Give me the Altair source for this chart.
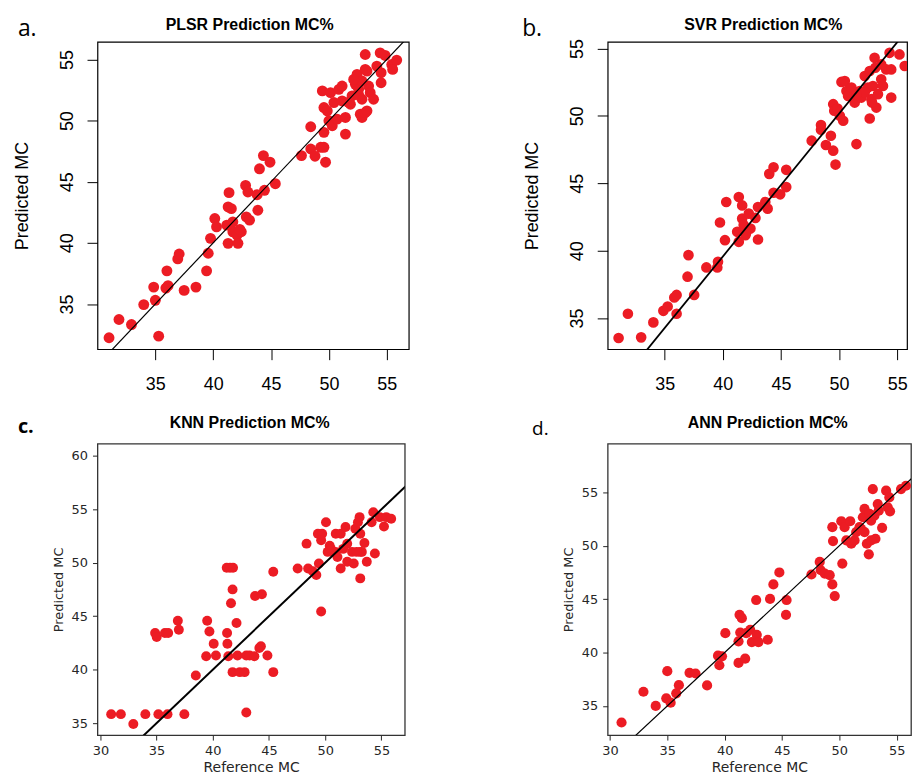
import altair as alt
import pandas as pd

# ---------------- data ----------------
a_x = [31.0, 31.86, 32.94, 34.0, 34.86, 35.0, 35.29, 35.91, 36.0, 36.1, 36.94, 37.06, 37.49, 38.51,
       39.43, 39.57, 39.77, 40.14, 40.29, 41.37, 41.29, 41.29, 41.57, 41.7, 41.7, 42.06, 42.14, 42.43,
       42.8, 43.0, 42.86, 43.14, 43.86, 43.8, 44.0, 44.34, 44.43, 44.91, 45.37, 47.63, 48.43, 48.43,
       48.8, 49.29, 49.57, 49.71, 49.57, 49.43, 49.57, 49.86, 50.0, 50.29, 50.14, 50.43, 50.86, 51.14,
       50.71, 51.43, 51.43, 51.14, 51.86, 52.0, 52.29, 52.43, 52.57, 52.86, 52.71, 52.86, 53.14, 53.29,
       53.14, 53.14, 53.29, 53.43, 53.57, 53.86, 54.14, 54.43, 54.51, 54.51, 54.86, 55.43, 55.51, 55.86,
       52.86, 52.14, 52.57, 51.7, 41.17, 42.3]
a_y = [32.24, 33.73, 33.32, 34.95, 36.38, 35.30, 32.37, 36.30, 37.71, 36.5, 38.69, 39.09, 36.11, 36.38,
       37.71, 39.15, 40.37, 41.99, 41.31, 44.11, 42.94, 39.96, 42.8, 41.72, 40.9, 40.64, 39.96, 40.91,
       44.70, 44.16, 42.13, 41.86, 42.67, 43.94, 46.06, 47.14, 44.3, 46.60, 44.84, 47.14, 49.5, 47.68,
       47.09, 47.82, 47.82, 46.6, 49.04, 52.43, 51.07, 50.8, 49.99, 49.58, 52.29, 51.48, 52.56, 52.83,
       50.12, 50.26, 48.9, 51.61, 51.34, 52.02, 52.97, 53.78, 52.56, 51.75, 50.53, 50.26, 50.66, 50.8,
       54.19, 55.41, 54.05, 52.83, 52.29, 51.75, 54.46, 55.54, 53.92, 53.1, 55.33, 54.59, 54.19, 54.95,
       53.24, 53.37, 52.1, 51.5, 41.45, 41.1]

b_x = [31.04, 31.84, 32.98, 34.03, 34.89, 35.26, 35.83, 36.03, 36.03, 36.97, 37.05, 37.54, 38.59, 39.53,
       39.59, 39.76, 40.19, 40.3, 41.24, 41.38, 41.38, 41.67, 41.67, 41.95, 42.24, 42.38, 42.81, 43.03,
       43.03, 43.66, 43.86, 44.0, 44.37, 44.37, 44.94, 45.46, 45.46, 47.65, 48.45, 48.45, 48.87, 49.3,
       49.5, 49.7, 49.5, 49.59, 49.87, 50.07, 50.36, 50.21, 50.5, 50.64, 50.78, 51.07, 51.35, 51.5,
       51.78, 51.92, 52.21, 52.49, 52.64, 52.78, 52.92, 53.06, 53.12, 53.21, 53.35, 53.63, 53.78, 54.06,
       54.35, 54.49, 54.49, 55.2, 55.65, 52.64, 52.21, 51.5, 53.63, 52.84, 41.8, 42.0]
b_y = [33.52, 35.32, 33.57, 34.68, 35.54, 35.86, 36.53, 36.72, 35.32, 38.07, 39.67, 36.72, 38.76, 38.76,
       39.18, 42.09, 40.78, 43.61, 41.40, 43.98, 40.66, 43.36, 42.38, 41.15, 42.75, 41.64, 42.43, 40.83,
       43.24, 43.61, 43.12, 45.7, 46.19, 44.3, 44.18, 46.0, 44.72, 48.16, 49.32, 48.97, 47.84, 48.53,
       47.42, 46.39, 50.87, 50.38, 50.55, 50.01, 49.64, 52.52, 52.59, 51.85, 51.48, 52.1, 50.99, 47.91,
       51.85, 51.36, 52.96, 52.1, 49.81, 51.24, 52.22, 54.31, 53.57, 50.62, 51.61, 52.71, 52.22, 53.45,
       54.68, 53.45, 51.36, 54.56, 53.7, 53.33, 51.73, 51.6, 53.82, 50.99, 41.9, 41.3]

c_x = [30.96, 31.82, 32.93, 34.0, 34.87, 35.01, 35.16, 35.74, 36.03, 35.97, 36.89, 36.98, 37.47, 38.49,
       39.41, 39.5, 39.7, 40.08, 40.28, 41.24, 41.53, 41.8, 41.27, 41.3, 41.38, 41.62, 41.76, 41.76,
       42.11, 42.2, 42.4, 42.83, 42.98, 42.98, 43.27, 43.7, 43.76, 44.14, 44.37, 44.28, 44.86, 45.38,
       45.38, 47.55, 48.34, 48.48, 49.21, 49.35, 49.44, 49.64, 49.73, 49.64, 50.07, 50.22, 50.4, 50.65,
       50.94, 51.09, 51.38, 51.38, 51.81, 51.96, 51.96, 52.39, 52.54, 52.68, 52.91, 53.06, 53.12, 53.12,
       53.12, 53.26, 53.49, 53.7, 54.13, 54.28, 54.42, 54.86, 55.23, 55.43, 55.87, 50.9, 52.8, 48.9,
       50.5, 51.6]
c_y = [35.84, 35.84, 34.91, 35.84, 43.43, 43.05, 35.84, 43.43, 43.43, 35.84, 44.57, 43.74, 35.84, 39.46,
       41.26, 44.57, 43.58, 42.43, 41.32, 49.53, 49.53, 49.53, 43.43, 42.43, 41.26, 46.21, 47.51, 39.77,
       44.36, 41.32, 39.77, 39.77, 41.32, 35.99, 41.32, 41.26, 46.9, 42.03, 47.05, 42.19, 41.32, 49.16,
       39.77, 49.47, 51.79, 49.47, 48.85, 52.72, 49.93, 45.44, 52.72, 52.1, 53.8, 51.02, 51.6, 51.02,
       52.72, 50.55, 52.72, 49.47, 53.34, 51.79, 50.09, 51.02, 49.93, 53.18, 53.8, 54.27, 52.72, 51.02,
       48.54, 51.02, 51.85, 50.09, 53.8, 54.73, 50.86, 54.27, 53.4, 54.27, 54.12, 51.02, 51.02, 49.2,
       51.3, 51.3]

d_x = [31.01, 32.92, 33.99, 35.0, 34.91, 35.29, 35.78, 36.01, 36.94, 37.46, 38.47, 39.42, 39.54, 39.77,
       40.06, 41.21, 41.21, 41.3, 41.5, 41.36, 41.79, 41.88, 42.23, 42.37, 42.75, 42.8, 42.95, 43.76,
       43.96, 44.25, 44.77, 45.4, 45.35, 47.57, 48.29, 48.38, 48.73, 49.16, 49.39, 49.6, 49.39, 49.45,
       50.17, 50.26, 50.46, 50.61, 50.95, 51.04, 51.33, 51.47, 51.76, 52.05, 52.2, 52.2, 52.4, 52.57,
       52.63, 52.77, 52.92, 53.06, 53.15, 53.35, 53.44, 53.73, 54.08, 54.22, 54.36, 54.42, 55.38, 55.81,
       51.9, 52.77]
d_y = [33.45, 36.33, 35.0, 38.26, 35.71, 35.31, 36.18, 36.95, 38.1, 38.04, 36.92, 39.71, 38.81, 39.65,
       41.82, 41.05, 39.03, 43.53, 43.22, 41.88, 39.43, 41.82, 42.13, 40.98, 44.92, 41.67, 40.98, 41.2,
       45.02, 46.38, 47.5, 44.92, 43.53, 47.31, 48.49, 47.71, 47.4, 47.25, 46.38, 45.29, 51.74, 50.44,
       52.3, 48.33, 51.74, 50.5, 52.3, 50.19, 50.5, 51.28, 51.74, 52.67, 53.45, 51.28, 50.19, 49.2,
       52.98, 52.36, 55.31, 52.83, 50.66, 53.91, 53.29, 51.68, 55.16, 53.6, 54.53, 53.23, 55.31, 55.62,
       51.59, 50.5]

# reference lines (two end points each)
a_line_x = [29.0, 58.0]
a_line_y = [29.0, 58.0]
b_line_x = [30.0, 57.0]
b_line_y = [28.96, 57.58]
c_line_x = [29.0, 58.0]
c_line_y = [29.0, 58.0]
d_line_x = [29.0, 58.0]
d_line_y = [29.0, 58.0]

ticks_top = [35, 40, 45, 50, 55]
ticks_c_x = [30, 35, 40, 45, 50, 55]
ticks_c_y = [35, 40, 45, 50, 55, 60]
ticks_d_x = [30, 35, 40, 45, 50, 55]
ticks_d_y = [35, 40, 45, 50, 55]

titles = ["PLSR Prediction MC%", "SVR Prediction MC%", "KNN Prediction MC%", "ANN Prediction MC%"]
labels = ["a.", "b.", "c.", "d."]

RED = "#ec1c24"
TOP_FONT = "Liberation Sans"
BOT_FONT = "DejaVu Sans"
LAB_FONT = "Open Sans"
ONE = pd.DataFrame({"k": [0]})


def axes(style, xticks, yticks):
    if style == "R":
        xa = alt.Axis(values=xticks, title=None, grid=False, domain=False,
                      tickSize=10.5, tickColor="black", tickWidth=1,
                      labelFont=TOP_FONT, labelFontSize=18, labelColor="black",
                      labelPadding=16, labelFlush=False)
        ya = alt.Axis(values=yticks, title="Predicted MC", grid=False, domain=False,
                      tickSize=10.5, tickColor="black", tickWidth=1,
                      labelFont=TOP_FONT, labelFontSize=18, labelColor="black",
                      labelAngle=270, labelAlign="center", labelBaseline="bottom",
                      labelPadding=10.7, labelFlush=False,
                      titleFont=TOP_FONT, titleFontSize=18, titleFontWeight="normal",
                      titleColor="black", titlePadding=27)
    else:
        xa = alt.Axis(values=xticks, title="Reference MC", grid=False, domain=False,
                      tickSize=5, tickColor="#262626", tickWidth=1,
                      labelFont=BOT_FONT, labelFontSize=13, labelColor="#262626",
                      labelPadding=5, labelFlush=False,
                      titleFont=BOT_FONT, titleFontSize=14, titleFontWeight="normal",
                      titleColor="#262626", titlePadding=3)
        ya = alt.Axis(values=yticks, title="Predicted MC", grid=False, domain=False,
                      tickSize=5, tickColor="#262626", tickWidth=1,
                      labelFont=BOT_FONT, labelFontSize=13, labelColor="#262626",
                      labelPadding=5, labelFlush=False,
                      titleFont=BOT_FONT, titleFontSize=13, titleFontWeight="normal",
                      titleColor="#262626", titlePadding=6)
    return xa, ya


def panel(xs, ys, xdom, ydom, xticks, yticks, width, height, style,
          label, lab_size, lab_weight, lab_x, lab_y,
          title, title_x, title_y, line_x, line_y, line_w,
          point_size, frame_color, frame_w, anchor=False):
    pts = pd.DataFrame({"x": xs, "y": ys})
    ln = pd.DataFrame({"x": line_x, "y": line_y})
    xa, ya = axes(style, xticks, yticks)
    xs_ = alt.Scale(domain=xdom, nice=False, zero=False)
    ys_ = alt.Scale(domain=ydom, nice=False, zero=False)
    points = alt.Chart(pts).mark_circle(size=point_size, color=RED, opacity=1, clip=True).encode(
        x=alt.X("x:Q", scale=xs_, axis=xa),
        y=alt.Y("y:Q", scale=ys_, axis=ya),
    )
    line = alt.Chart(ln).mark_line(color="black", strokeWidth=line_w, clip=True).encode(
        x=alt.X("x:Q", scale=xs_, axis=xa),
        y=alt.Y("y:Q", scale=ys_, axis=ya),
    )
    lab = alt.Chart(ONE).mark_text(
        text=label, font=LAB_FONT, fontSize=lab_size, fontWeight=lab_weight,
        align="left", baseline="alphabetic", color="black",
    ).encode(x=alt.value(lab_x), y=alt.value(lab_y))
    ttl = alt.Chart(ONE).mark_text(
        text=title, font=TOP_FONT, fontSize=16, fontWeight="bold",
        align="center", baseline="alphabetic", color="black",
    ).encode(x=alt.value(title_x), y=alt.value(title_y))
    layers = [points, line, lab, ttl]
    if anchor:
        layers.append(
            alt.Chart(ONE).mark_rule(opacity=0).encode(
                x=alt.value(-97), y=alt.value(-39), y2=alt.value(-38)
            )
        )
    return alt.layer(*layers).properties(
        width=width, height=height,
        view=alt.ViewBackground(stroke=frame_color, strokeWidth=frame_w, fill="white"),
    )


pa = panel(a_x, a_y, [30.0, 56.9], [31.3, 56.44], ticks_top, ticks_top, 313, 309, "R",
           labels[0], 23, "normal", -80, -6, titles[0], 153, -12,
           a_line_x, a_line_y, 1.2, 120, "black", 1.2, anchor=True)
pb = panel(b_x, b_y, [30.1, 55.85], [32.69, 55.49], ticks_top, ticks_top, 301, 309, "R",
           labels[1], 23, "normal", -86, -6, titles[1], 156.5, -12,
           b_line_x, b_line_y, 1.8, 115, "black", 1.2)
pc = panel(c_x, c_y, [29.74, 57.08], [33.88, 61.14], ticks_c_x, ticks_c_y, 309, 293, "M",
           labels[2], 20, "bold", -80, -11, titles[2], 153, -16,
           c_line_x, c_line_y, 2.0, 100, "#333333", 1.3)
pd_ = panel(d_x, d_y, [29.8, 56.25], [32.27, 59.56], ticks_d_x, ticks_d_y, 305, 293, "M",
            labels[3], 19, "normal", -76, -9, titles[3], 161, -16,
            d_line_x, d_line_y, 1.2, 105, "#333333", 1.3)

chart = alt.concat(
    pa, pb, pc, pd_, columns=2, spacing={"row": 95, "column": 200},
    bounds="flush", align="none",
).properties(padding=0, background="white")

chart.save("out.html", embed_options={"renderer": "svg", "actions": False})
